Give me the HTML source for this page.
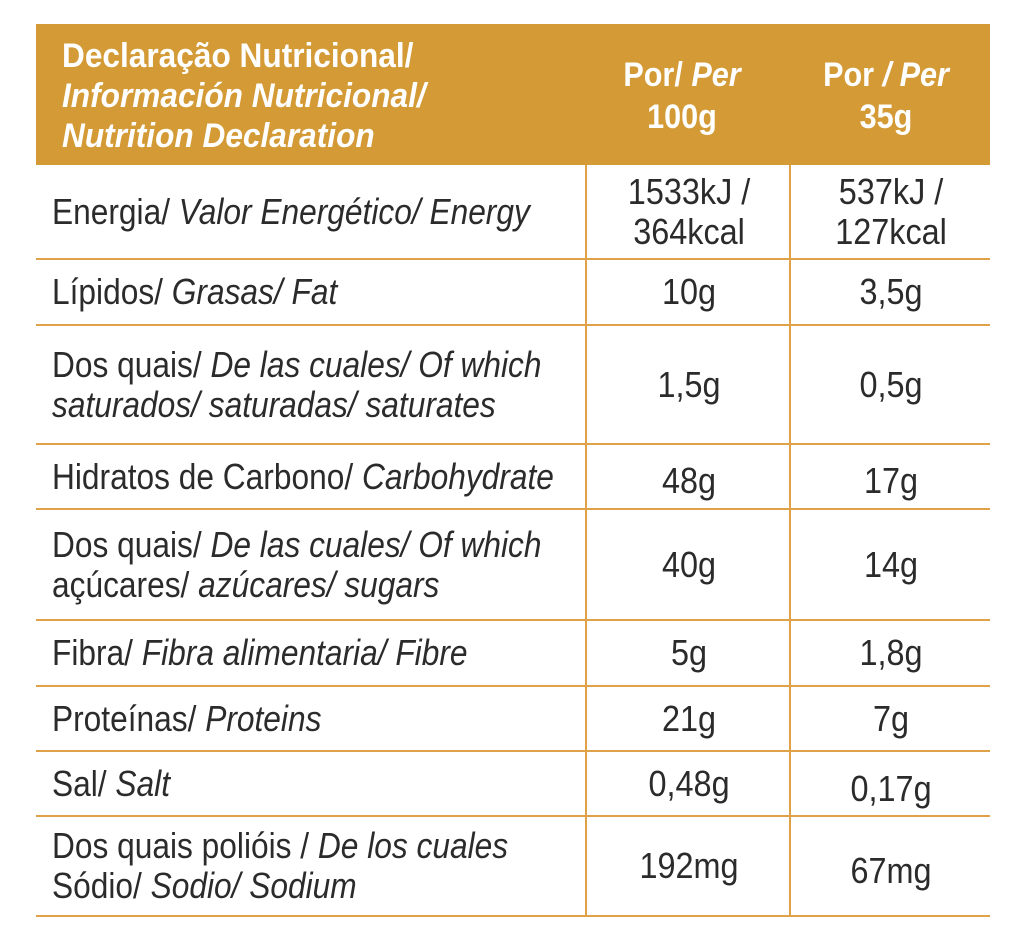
<!DOCTYPE html>
<html><head><meta charset="utf-8"><style>
html,body{margin:0;padding:0;background:#fff;}
body{width:1024px;height:943px;position:relative;overflow:hidden;font-family:"Liberation Sans",sans-serif;color:#2b2b2b;}
.hdr{position:absolute;left:36px;top:24px;width:954px;height:141px;background:#d39a36;}
.hl{position:absolute;left:62px;top:36px;color:#fff;font-weight:bold;font-size:34px;line-height:40px;white-space:nowrap;transform:scaleX(.93);transform-origin:left top;}
.hc{position:absolute;top:54px;color:#fff;font-weight:bold;font-size:34px;line-height:42px;text-align:center;width:200px;white-space:nowrap;transform:scaleX(.9);}
.hline{position:absolute;left:36px;width:954px;height:2px;background:#e0a248;}
.vline{position:absolute;top:165px;width:2px;height:752px;background:#e0a248;}
.cell{position:absolute;display:flex;align-items:center;font-size:36px;line-height:40px;white-space:nowrap;}
.cell>span{display:inline-block;}
.lab{left:52px;width:530px;}
.lab>span{transform:scaleX(.88);transform-origin:left center;}
.v1{left:588px;width:202px;justify-content:center;text-align:center;}
.v2{left:792px;width:198px;justify-content:center;text-align:center;}
.v1>span,.v2>span{transform:scaleX(.9);transform-origin:center center;}
i{font-style:italic;}
</style></head><body>
<div class="hdr"></div>
<div class="hl">Declaração Nutricional/<br><i>Información Nutricional/</i><br><i>Nutrition Declaration</i></div>
<div class="hc" style="left:582px">Por/ <i>Per</i><br>100g</div>
<div class="hc" style="left:786px">Por <i>/ Per</i><br>35g</div>

<div class="vline" style="left:585px"></div>
<div class="vline" style="left:789px"></div>
<div class="hline" style="top:258px"></div>
<div class="hline" style="top:324px"></div>
<div class="hline" style="top:443px"></div>
<div class="hline" style="top:508px"></div>
<div class="hline" style="top:619px"></div>
<div class="hline" style="top:685px"></div>
<div class="hline" style="top:750px"></div>
<div class="hline" style="top:815px"></div>
<div class="hline" style="top:915px"></div>

<div class="cell lab" style="top:165px;height:93px"><span>Energia/ <i>Valor Energético/ Energy</i></span></div>
<div class="cell v1" style="top:165px;height:93px"><span>1533kJ /<br>364kcal</span></div>
<div class="cell v2" style="top:165px;height:93px"><span>537kJ /<br>127kcal</span></div>

<div class="cell lab" style="top:260px;height:64px"><span>Lípidos/ <i>Grasas/ Fat</i></span></div>
<div class="cell v1" style="top:260px;height:64px"><span>10g</span></div>
<div class="cell v2" style="top:260px;height:64px"><span>3,5g</span></div>

<div class="cell lab" style="top:326px;height:117px"><span>Dos quais/ <i>De las cuales/ Of which</i><br><i>saturados/ saturadas/ saturates</i></span></div>
<div class="cell v1" style="top:326px;height:117px"><span>1,5g</span></div>
<div class="cell v2" style="top:326px;height:117px"><span>0,5g</span></div>

<div class="cell lab" style="top:445px;height:63px"><span>Hidratos de Carbono/ <i>Carbohydrate</i></span></div>
<div class="cell v1" style="top:449px;height:63px"><span>48g</span></div>
<div class="cell v2" style="top:449px;height:63px"><span>17g</span></div>

<div class="cell lab" style="top:510px;height:109px"><span>Dos quais/ <i>De las cuales/ Of which</i><br>açúcares/ <i>azúcares/ sugars</i></span></div>
<div class="cell v1" style="top:510px;height:109px"><span>40g</span></div>
<div class="cell v2" style="top:510px;height:109px"><span>14g</span></div>

<div class="cell lab" style="top:621px;height:64px"><span>Fibra/ <i>Fibra alimentaria/ Fibre</i></span></div>
<div class="cell v1" style="top:621px;height:64px"><span>5g</span></div>
<div class="cell v2" style="top:621px;height:64px"><span>1,8g</span></div>

<div class="cell lab" style="top:687px;height:63px"><span>Proteínas/ <i>Proteins</i></span></div>
<div class="cell v1" style="top:687px;height:63px"><span>21g</span></div>
<div class="cell v2" style="top:687px;height:63px"><span>7g</span></div>

<div class="cell lab" style="top:752px;height:63px"><span>Sal/ <i>Salt</i></span></div>
<div class="cell v1" style="top:752px;height:63px"><span>0,48g</span></div>
<div class="cell v2" style="top:757px;height:63px"><span>0,17g</span></div>

<div class="cell lab" style="top:817px;height:98px"><span>Dos quais polióis / <i>De los cuales</i><br>Sódio/ <i>Sodio/ Sodium</i></span></div>
<div class="cell v1" style="top:817px;height:98px"><span>192mg</span></div>
<div class="cell v2" style="top:822px;height:98px"><span>67mg</span></div>
</body></html>
